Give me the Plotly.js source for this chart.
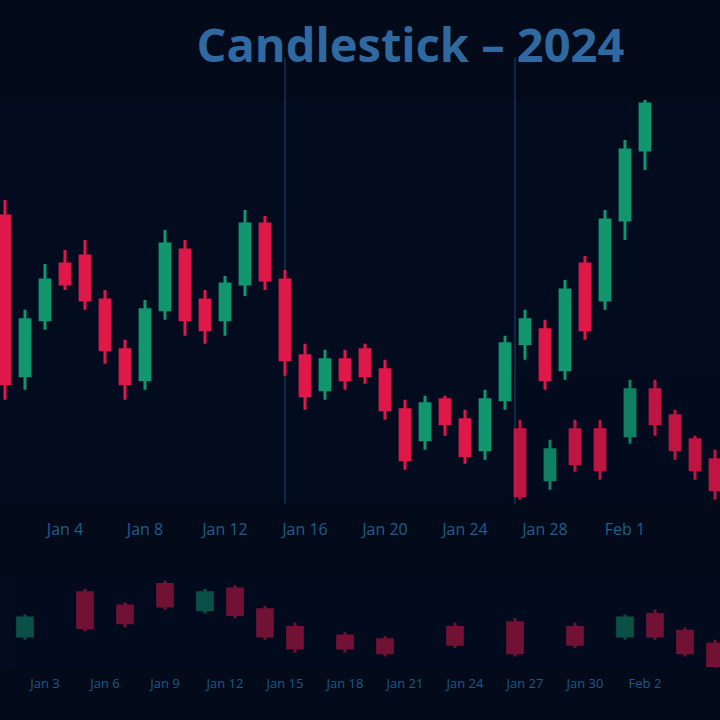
<!DOCTYPE html>
<html>
<head>
<meta charset="utf-8">
<script src="https://cdn.plot.ly/plotly-3.0.1.min.js"></script>
<style>html,body{margin:0;padding:0;background:#030a1a;}#chart{width:720px;height:720px;}</style>
</head>
<body>
<div id="chart"></div>
<script>
// ---- main candles (series A) ----
const datesA = ["2024-01-01","2024-01-02","2024-01-03","2024-01-04","2024-01-05","2024-01-06","2024-01-07","2024-01-08","2024-01-09","2024-01-10","2024-01-11","2024-01-12","2024-01-13","2024-01-14","2024-01-15","2024-01-16","2024-01-17","2024-01-18","2024-01-19","2024-01-20","2024-01-21","2024-01-22","2024-01-23","2024-01-24","2024-01-25","2024-01-26","2024-01-27","2024-01-28","2024-01-29","2024-01-30","2024-01-31","2024-02-01","2024-02-02"];
const openA  = [96, 56, 70, 84, 86, 75, 62.5, 55, 72.5, 87.5, 75, 70, 79, 94, 80, 61, 52.5, 60, 62.5, 57.5, 47.5, 40, 50, 45, 37.5, 50, 64, 67.5, 57.5, 84, 75, 95, 112.5];
const closeA = [54, 70, 80, 79, 75, 62.5, 54, 72.5, 89, 70, 67.5, 79, 94, 80, 60, 51, 60, 55, 56, 47.5, 35, 49, 44, 36, 50, 64, 70, 55, 77.5, 67.5, 95, 112.5, 124];
const highA  = [100, 72.5, 84, 87.5, 90, 77.5, 65, 75, 92.5, 90, 77.5, 81, 97.5, 96, 82.5, 64, 62.5, 62.5, 64, 60, 50, 51, 51, 47.5, 52.5, 66, 72.5, 70, 80, 86, 97.5, 115, 126];
const lowA   = [50, 52.5, 67.5, 77.5, 72.5, 59, 50, 52.5, 70, 66, 64, 66, 76, 77.5, 56, 47.5, 50, 52.5, 54, 45, 32.5, 37.5, 41, 34, 35, 47.5, 60, 52.5, 55, 65, 72.5, 90, 107.5];

// ---- second candle series in the main panel (series B) ----
const datesB = ["2024-01-26 18:00","2024-01-28 06:00","2024-01-29 12:00","2024-01-30 18:00","2024-02-01 06:00","2024-02-02 12:00","2024-02-03 12:00","2024-02-04 12:00","2024-02-05 12:00"];
const openB  = [42.5, 30, 42.5, 42.5, 41, 52.5, 46, 40, 35];
const closeB = [26, 37.5, 34, 32.5, 52.5, 44, 37.5, 32.5, 27.5];
const highB  = [45, 40, 45, 45, 55, 55, 47.5, 41, 37.5];
const lowB   = [22.5, 27.5, 32, 30, 39, 41, 35, 30, 25];

// ---- lower panel candles ----
const datesL = ["2024-01-02","2024-01-05","2024-01-07","2024-01-09","2024-01-11","2024-01-12 12:00","2024-01-14","2024-01-15 12:00","2024-01-18","2024-01-20","2024-01-23 12:00","2024-01-26 12:00","2024-01-29 12:00","2024-02-01","2024-02-02 12:00","2024-02-04","2024-02-05 12:00"];
const openL  = [36, 82, 68, 91, 64, 86, 64, 45, 36, 32, 45, 50, 45, 36, 59, 41, 27];
const closeL = [55, 45, 50, 68, 82, 59, 36, 23, 23, 18, 27, 18, 27, 55, 36, 18, 4.5];
const highL  = [59, 86, 72, 95, 86, 90, 68, 50, 40, 36, 50, 55, 50, 59, 64, 45, 32];
const lowL   = [32, 41, 45, 64, 60, 55, 32, 18, 18, 14, 23, 14, 23, 32, 32, 14, 2];

// ---- axes ----
const xRange = ["2023-12-31 18:00", "2024-02-05 18:00"];
const mainTickDates = ["2024-01-04","2024-01-08","2024-01-12","2024-01-16","2024-01-20","2024-01-24","2024-01-28","2024-02-01","2024-02-05"];
const mainTickText  = ["Jan 4","Jan 8","Jan 12","Jan 16","Jan 20","Jan 24","Jan 28","Feb 1","Feb 5"];
const lowTickDates  = ["2024-01-03","2024-01-06","2024-01-09","2024-01-12","2024-01-15","2024-01-18","2024-01-21","2024-01-24","2024-01-27","2024-01-30","2024-02-02","2024-02-05"];
const lowTickText   = ["Jan 3","Jan 6","Jan 9","Jan 12","Jan 15","Jan 18","Jan 21","Jan 24","Jan 27","Jan 30","Feb 2","Feb 5"];
const gridDates = ["2024-01-15", "2024-01-26 12:00"];

const RED = '#e0184a', GREEN = '#12966e';

const traces = [
  {type:'candlestick', x:datesA, open:openA, close:closeA, high:highA, low:lowA, xaxis:'x', yaxis:'y',
   increasing:{line:{color:GREEN,width:3}, fillcolor:GREEN},
   decreasing:{line:{color:RED,width:3}, fillcolor:RED}, hoverinfo:'skip'},
  {type:'candlestick', x:datesB, open:openB, close:closeB, high:highB, low:lowB, xaxis:'x3', yaxis:'y',
   increasing:{line:{color:GREEN,width:3}, fillcolor:GREEN},
   decreasing:{line:{color:RED,width:3}, fillcolor:RED}, opacity:0.85, hoverinfo:'skip'},
  {type:'candlestick', x:datesL, open:openL, close:closeL, high:highL, low:lowL, xaxis:'x2', yaxis:'y2',
   increasing:{line:{color:GREEN,width:3}, fillcolor:GREEN},
   decreasing:{line:{color:RED,width:3}, fillcolor:RED}, opacity:0.5, hoverinfo:'skip'}
];

const tickFont = {family:'Open Sans', size:16, color:'#1e5f8e'};
const layout = {
  width:720, height:720,
  margin:{l:0, r:0, t:0, b:0},
  paper_bgcolor:'#030a1a', plot_bgcolor:'#030b1e',
  showlegend:false,
  title:{text:'Candlestick – 2024', x:0.57, xanchor:'center', y:0.937, yanchor:'middle',
         font:{family:'Open Sans', size:47, color:'#3069a0', weight:700}},
  xaxis:{type:'date', domain:[0,1], anchor:'y', range:xRange, rangeslider:{visible:false},
         showgrid:false, zeroline:false, showline:false, ticks:'',
         tickmode:'array', tickvals:mainTickDates, ticktext:mainTickText, tickfont:tickFont,
         ticklabelstandoff:18},
  xaxis2:{type:'date', domain:[0,1], anchor:'y2', matches:'x', rangeslider:{visible:false},
          showgrid:false, zeroline:false, showline:false, ticks:'',
          tickmode:'array', tickvals:lowTickDates, ticktext:lowTickText,
          tickfont:{family:'Open Sans', size:13, color:'#1a5a88'}, ticklabelstandoff:4},
  xaxis3:{type:'date', overlaying:'x', matches:'x', anchor:'y', visible:false, rangeslider:{visible:false}},
  yaxis:{domain:[0.306,0.861], range:[25,125], visible:false, showgrid:false, zeroline:false},
  yaxis2:{domain:[0.07,0.2], range:[0,100], visible:false, showgrid:false, zeroline:false},
  shapes: gridDates.map(d => ({type:'line', xref:'x', yref:'paper', x0:d, x1:d, y0:0.3, y1:0.92,
          line:{color:'rgba(40,95,150,0.35)', width:2}, layer:'below'}))
};

Plotly.newPlot('chart', traces, layout, {staticPlot:true, displayModeBar:false});
</script>
</body>
</html>
